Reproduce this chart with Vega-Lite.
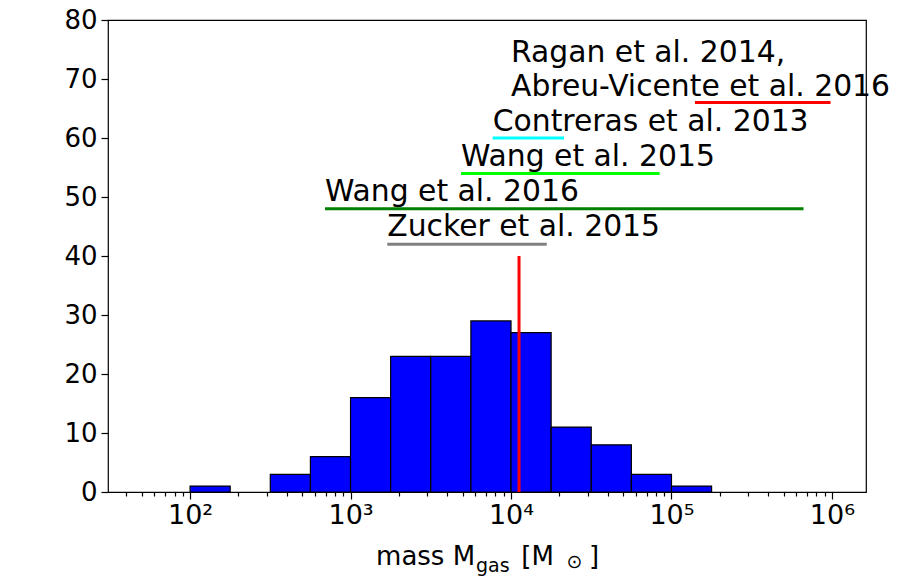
{
  "$schema": "https://vega.github.io/schema/vega-lite/v6.json",
  "width": 758,
  "height": 472,
  "autosize": "none",
  "padding": {"left": 108, "top": 20, "right": 42, "bottom": 84},
  "background": "white",
  "config": {
    "font": "DejaVu Sans",
    "view": {"stroke": "black", "strokeWidth": 1.2},
    "axis": {
      "domain": false,
      "grid": false,
      "labelFont": "DejaVu Sans",
      "labelColor": "black",
      "tickColor": "black",
      "titleFont": "DejaVu Sans",
      "titleFontWeight": "normal",
      "titleColor": "black"
    }
  },
  "datasets": {
    "bins": [
      {"lo": 100, "hi": 177.8, "count": 1},
      {"lo": 316.2, "hi": 562.3, "count": 3},
      {"lo": 562.3, "hi": 1000, "count": 6},
      {"lo": 1000, "hi": 1778, "count": 16},
      {"lo": 1778, "hi": 3162, "count": 23},
      {"lo": 3162, "hi": 5623, "count": 23},
      {"lo": 5623, "hi": 10000, "count": 29},
      {"lo": 10000, "hi": 17783, "count": 27},
      {"lo": 17783, "hi": 31623, "count": 11},
      {"lo": 31623, "hi": 56234, "count": 8},
      {"lo": 56234, "hi": 100000, "count": 3},
      {"lo": 100000, "hi": 177828, "count": 1}
    ],
    "median": [{"mass": 11220, "from": 0, "to": 40}],
    "ranges": [
      {"study": "Ragan et al. 2014, Abreu-Vicente et al. 2016", "lo": 140000, "hi": 980000, "level": 66},
      {"study": "Contreras et al. 2013", "lo": 7690, "hi": 21400, "level": 60},
      {"study": "Wang et al. 2015", "lo": 4880, "hi": 84300, "level": 54},
      {"study": "Wang et al. 2016", "lo": 693, "hi": 665000, "level": 48},
      {"study": "Zucker et al. 2015", "lo": 1694, "hi": 16700, "level": 42}
    ],
    "labels": [
      {"text": "Ragan et al. 2014,", "at": 10000, "level": 72.8},
      {"text": "Abreu-Vicente et al. 2016", "at": 10000, "level": 67.2},
      {"text": "Contreras et al. 2013", "at": 7690, "level": 61.2},
      {"text": "Wang et al. 2015", "at": 4880, "level": 55.2},
      {"text": "Wang et al. 2016", "at": 693, "level": 49.3},
      {"text": "Zucker et al. 2015", "at": 1694, "level": 43.4}
    ],
    "xtitle": [
      {"part": "mass M", "at": 1442, "level": -12.4, "kind": "main"},
      {"part": "gas", "at": 6050, "level": -13.5, "kind": "sub"},
      {"part": "[M", "at": 11600, "level": -12.4, "kind": "main"},
      {"part": "⊙", "at": 22200, "level": -12.9, "kind": "sub"},
      {"part": "]", "at": 30600, "level": -12.4, "kind": "main"}
    ]
  },
  "layer": [
    {
      "data": {"name": "bins"},
      "mark": {"type": "rect", "fill": "#0000ff", "stroke": "black", "strokeWidth": 1.2},
      "encoding": {
        "x": {
          "field": "lo",
          "type": "quantitative",
          "title": null,
          "scale": {"type": "log", "domain": [30.8, 1630000], "nice": false},
          "axis": {
            "values": [40, 50, 60, 70, 80, 90,
              100, 200, 300, 400, 500, 600, 700, 800, 900,
              1000, 2000, 3000, 4000, 5000, 6000, 7000, 8000, 9000,
              10000, 20000, 30000, 40000, 50000, 60000, 70000, 80000, 90000,
              100000, 200000, 300000, 400000, 500000, 600000, 700000, 800000, 900000,
              1000000],
            "labelExpr": "datum.value == 100 ? '10²' : datum.value == 1000 ? '10³' : datum.value == 10000 ? '10⁴' : datum.value == 100000 ? '10⁵' : datum.value == 1000000 ? '10⁶' : ''",
            "labelFontSize": 27,
            "labelPadding": 3,
            "labelOverlap": false,
            "labelFlush": false,
            "tickSize": {"condition": {"test": "indexof([100, 1000, 10000, 100000, 1000000], datum.value) >= 0", "value": 7}, "value": 4},
            "tickWidth": 1.2
          }
        },
        "x2": {"field": "hi"},
        "y": {
          "field": "count",
          "type": "quantitative",
          "scale": {"domain": [0, 80], "nice": false},
          "axis": {
            "values": [0, 10, 20, 30, 40, 50, 60, 70, 80],
            "labelFontSize": 26,
            "labelPadding": 4,
            "tickSize": 7,
            "tickWidth": 1.2,
            "title": "number of filaments",
            "titleFontSize": 26,
            "titlePadding": 10
          }
        },
        "y2": {"datum": 0}
      }
    },
    {
      "data": {"name": "median"},
      "mark": {"type": "rule", "color": "#ff0000", "strokeWidth": 3},
      "encoding": {
        "x": {"field": "mass", "type": "quantitative", "title": null},
        "y": {"field": "from", "type": "quantitative", "title": null},
        "y2": {"field": "to"}
      }
    },
    {
      "data": {"name": "ranges"},
      "mark": {"type": "rule", "strokeWidth": 3},
      "encoding": {
        "x": {"field": "lo", "type": "quantitative", "title": null},
        "x2": {"field": "hi"},
        "y": {"field": "level", "type": "quantitative", "title": null},
        "color": {
          "field": "study",
          "type": "nominal",
          "legend": null,
          "scale": {
            "domain": ["Ragan et al. 2014, Abreu-Vicente et al. 2016", "Contreras et al. 2013", "Wang et al. 2015", "Wang et al. 2016", "Zucker et al. 2015"],
            "range": ["#ff0000", "#00ffff", "#00ff00", "#008000", "#808080"]
          }
        }
      }
    },
    {
      "data": {"name": "labels"},
      "mark": {"type": "text", "align": "left", "baseline": "alphabetic", "fontSize": 29.8, "color": "black"},
      "encoding": {
        "x": {"field": "at", "type": "quantitative", "title": null},
        "y": {"field": "level", "type": "quantitative", "title": null},
        "text": {"field": "text"}
      }
    },
    {
      "data": {"name": "xtitle"},
      "mark": {"type": "text", "align": "left", "baseline": "alphabetic", "color": "black"},
      "encoding": {
        "x": {"field": "at", "type": "quantitative", "title": null},
        "y": {"field": "level", "type": "quantitative", "title": null},
        "text": {"field": "part"},
        "size": {
          "field": "kind",
          "type": "nominal",
          "legend": null,
          "scale": {"domain": ["main", "sub"], "range": [26, 19]}
        }
      }
    }
  ]
}
